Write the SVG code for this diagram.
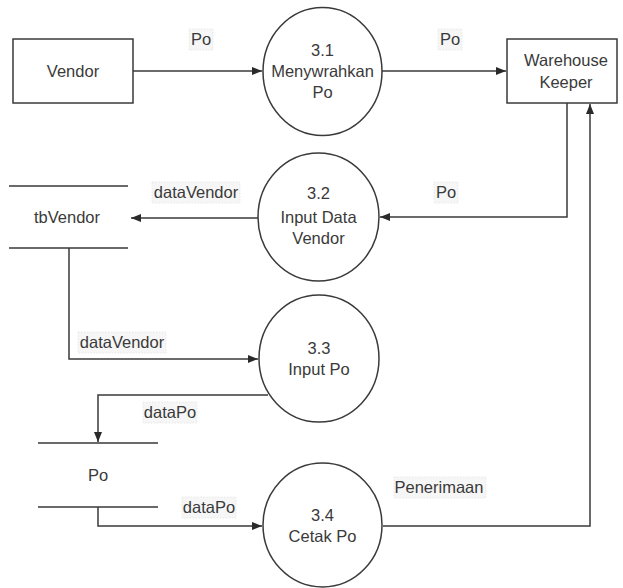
<svg xmlns="http://www.w3.org/2000/svg" width="623" height="588" viewBox="0 0 623 588">
<defs>
<style>
.t{font-family:"Liberation Sans",Arial,sans-serif;font-size:16.5px;fill:#3a3a3a;text-anchor:middle}
.s{fill:none;stroke:#3a3a3a;stroke-width:1.5}
.n{fill:#fff;stroke:#3a3a3a;stroke-width:1.5}
.lb{fill:#f6f6f6;stroke:#e4e4e4;stroke-width:0.8;stroke-dasharray:1.5 1.5}
</style>
<marker id="ah" viewBox="0 0 10 10" refX="10" refY="5" markerWidth="10" markerHeight="10" markerUnits="userSpaceOnUse" orient="auto">
<path d="M0,1 L10,5 L0,9 Z" fill="#2a2a2a"/>
</marker>
</defs>
<rect width="623" height="588" fill="#fff"/>
<g id="connectors">
<path class="s" d="M133,71 H262" marker-end="url(#ah)"/>
<path class="s" d="M382,71 H506" marker-end="url(#ah)"/>
<path class="s" d="M567,103 V217 H380" marker-end="url(#ah)"/>
<path class="s" d="M258,218 H131" marker-end="url(#ah)"/>
<path class="s" d="M69,248 V359 H258" marker-end="url(#ah)"/>
<path class="s" d="M268,395 H98 V442" marker-end="url(#ah)"/>
<path class="s" d="M98,507 V526 H262" marker-end="url(#ah)"/>
<path class="s" d="M383,526 H590 V104" marker-end="url(#ah)"/>
<rect class="lb" x="189" y="29" width="24" height="21"/>
<text class="t" x="201" y="45">Po</text>
<rect class="lb" x="438" y="29" width="24" height="21"/>
<text class="t" x="450" y="45">Po</text>
<rect class="lb" x="434" y="182" width="24" height="21"/>
<text class="t" x="446" y="198">Po</text>
<rect class="lb" x="152" y="182" width="88" height="21"/>
<text class="t" x="196" y="198">dataVendor</text>
<rect class="lb" x="78" y="332" width="88" height="21"/>
<text class="t" x="122" y="348">dataVendor</text>
<rect class="lb" x="143" y="402" width="54" height="21"/>
<text class="t" x="170" y="418">dataPo</text>
<rect class="lb" x="182" y="497" width="54" height="21"/>
<text class="t" x="209" y="513">dataPo</text>
<rect class="lb" x="394" y="477" width="92" height="21"/>
<text class="t" x="439" y="493">Penerimaan</text>
</g>
<g id="vendor">
<rect class="n" x="13" y="39" width="120" height="64"/>
<text class="t" x="73" y="77">Vendor</text>
</g>
<g id="warehouse-keeper">
<rect class="n" x="507" y="39" width="110" height="64"/>
<text class="t" x="566" y="66">Warehouse</text>
<text class="t" x="566" y="88">Keeper</text>
</g>
<g id="p31">
<ellipse class="n" cx="322.5" cy="71.5" rx="59.5" ry="64"/>
<text class="t" x="322.5" y="56">3.1</text>
<text class="t" x="322.5" y="77">Menywrahkan</text>
<text class="t" x="322.5" y="98">Po</text>
</g>
<g id="p32">
<ellipse class="n" cx="318.5" cy="217" rx="60.5" ry="64"/>
<text class="t" x="318.5" y="199">3.2</text>
<text class="t" x="318.5" y="223">Input Data</text>
<text class="t" x="318.5" y="244">Vendor</text>
</g>
<g id="p33">
<ellipse class="n" cx="319" cy="358.5" rx="60" ry="63.5"/>
<text class="t" x="319" y="354">3.3</text>
<text class="t" x="319" y="375">Input Po</text>
</g>
<g id="p34">
<ellipse class="n" cx="322.5" cy="525" rx="59.5" ry="62"/>
<text class="t" x="322.5" y="521">3.4</text>
<text class="t" x="322.5" y="542">Cetak Po</text>
</g>
<g id="tbVendor">
<path class="s" d="M9,186 H128 M9,248 H128"/>
<text class="t" x="67" y="223">tbVendor</text>
</g>
<g id="store-po">
<path class="s" d="M38,443 H158 M38,507 H158"/>
<text class="t" x="98" y="481">Po</text>
</g>
</svg>
